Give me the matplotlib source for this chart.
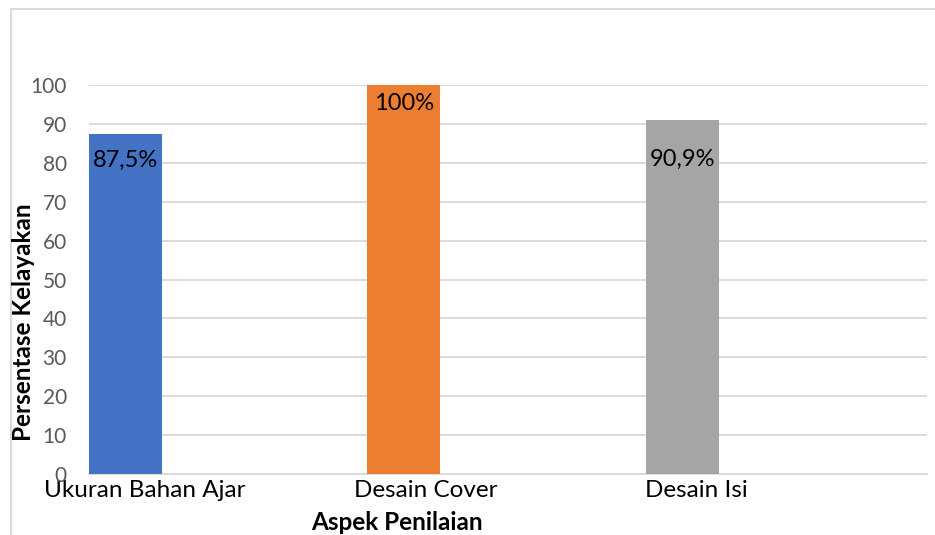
import matplotlib.pyplot as plt
from matplotlib.patches import Rectangle

categories = ['Ukuran Bahan Ajar', 'Desain Cover', 'Desain Isi']
values = [87.5, 100, 90.9]
value_labels = ['87,5%', '100%', '90,9%']
yticks = [0, 10, 20, 30, 40, 50, 60, 70, 80, 90, 100]

colors = ['#4472C4', '#ED7D31', '#A5A5A5']
# hand-moved data labels in the original, distance below bar top (points)
label_drop = [19, 13, 28]
# category labels sit a bit right of the bars
label_shift = [0.2, 0.21, 0.18]

plt.rcParams['font.family'] = ['Lato', 'DejaVu Sans']

fig = plt.figure(figsize=(9.35, 5.35), dpi=100)
ax = fig.add_axes([89 / 935, 1 - 474 / 535, 838 / 935, 389 / 535])

bar_w = 0.262
pos = list(range(len(categories)))
bars = ax.bar(pos, values, width=bar_w, align='edge', color=colors, zorder=3)

for i, b in enumerate(bars):
    ax.annotate(value_labels[i], (b.get_x() + b.get_width() / 2, b.get_height()),
                xytext=(0, -label_drop[i]), textcoords='offset points',
                ha='center', va='center', fontsize=17, color='black', zorder=4)

ax.set_xlim(0, 3.01)
ax.set_ylim(0, 100)
ax.set_yticks(yticks)
ax.set_yticklabels([str(t) for t in yticks], fontsize=15, color='#595959')
ax.set_xticks([p + label_shift[p] for p in pos])
ax.set_xticklabels(categories, fontsize=17.5, color='black')
ax.tick_params(axis='both', length=0)
ax.tick_params(axis='x', pad=4)
ax.tick_params(axis='y', pad=16)
ax.grid(axis='y', color='#D9D9D9', linewidth=1.3, zorder=0)
for s in ['top', 'right', 'left']:
    ax.spines[s].set_visible(False)
ax.spines['bottom'].set_color('#D9D9D9')
ax.spines['bottom'].set_linewidth(1.3)

fig.text(24 / 935, 1 - 322 / 535, 'Persentase Kelayakan', rotation=90,
         ha='center', va='center', fontsize=17.5, fontweight='bold')
fig.text(397 / 935, 1 - 522 / 535, 'Aspek Penilaian',
         ha='center', va='center', fontsize=17.5, fontweight='bold')

fig.patches.append(Rectangle((11 / 935, -0.1), 2, 1.1 - 9 / 535, transform=fig.transFigure,
                             fill=False, edgecolor='#D9D9D9', linewidth=1.5))

fig.savefig('out.png', dpi=100)
